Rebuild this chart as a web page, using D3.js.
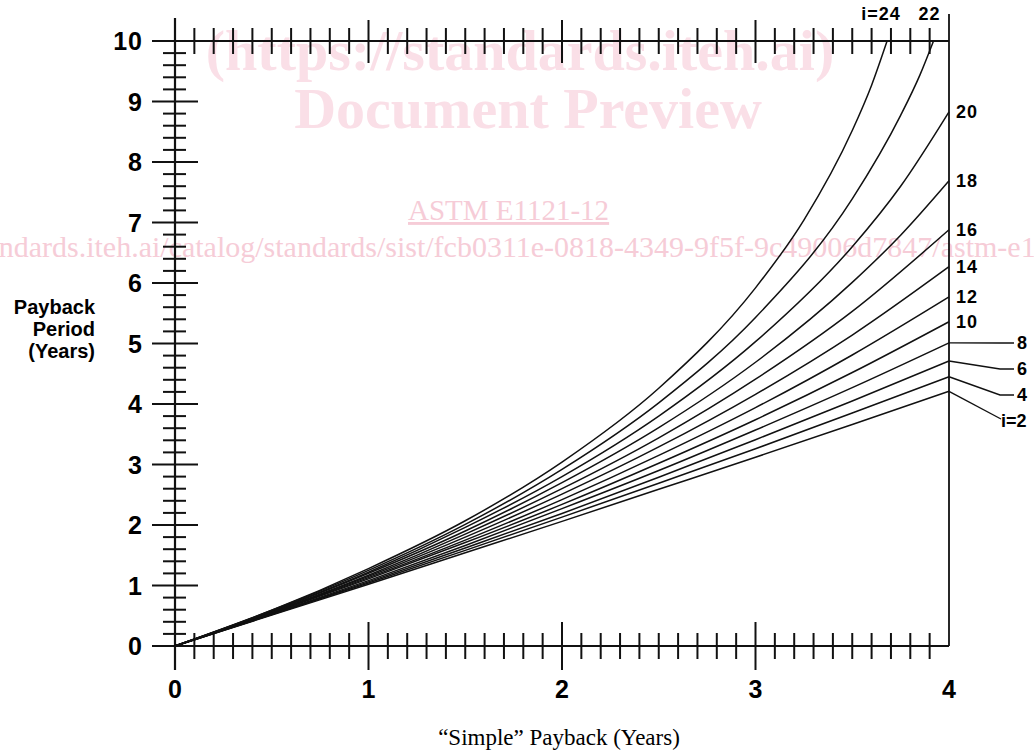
<!DOCTYPE html>
<html>
<head>
<meta charset="utf-8">
<script src="https://cdn.jsdelivr.net/npm/d3@7"></script>
<style>
  body { margin: 0; background: #fff; }
  text { font-family: "Liberation Sans", Arial, sans-serif; }
  .serif { font-family: "Liberation Serif", "Times New Roman", serif; }
</style>
</head>
<body>
<div id="chart"></div>
<script>
// simple payback (x) vs discounted payback period (y), one curve per interest rate
var yTicks = [0, 1, 2, 3, 4, 5, 6, 7, 8, 9, 10]
var xTicks = [0, 1, 2, 3, 4]
var rates = [2, 4, 6, 8, 10, 12, 14, 16, 18, 20, 22, 24]

var i2 = [[0, 0], [0.5, 0.51], [1, 1.02], [1.5, 1.54], [2, 2.06], [2.5, 2.59], [3, 3.12], [3.5, 3.66], [4, 4.21]]
var i4 = [[0, 0], [0.5, 0.52], [1, 1.04], [1.5, 1.58], [2, 2.13], [2.5, 2.69], [3, 3.26], [3.5, 3.85], [4, 4.45]]
var i6 = [[0, 0], [0.5, 0.52], [1, 1.06], [1.5, 1.62], [2, 2.19], [2.5, 2.79], [3, 3.41], [3.5, 4.05], [4, 4.71]]
var i8 = [[0, 0], [0.5, 0.53], [1, 1.08], [1.5, 1.66], [2, 2.27], [2.5, 2.90], [3, 3.57], [3.5, 4.27], [4, 5.01]]
var i10 = [[0, 0], [0.5, 0.54], [1, 1.11], [1.5, 1.71], [2, 2.34], [2.5, 3.02], [3, 3.74], [3.5, 4.52], [4, 5.36]]
var i12 = [[0, 0], [0.5, 0.55], [1, 1.13], [1.5, 1.75], [2, 2.42], [2.5, 3.15], [3, 3.94], [3.5, 4.81], [4, 5.77]]
var i14 = [[0, 0], [0.5, 0.55], [1, 1.15], [1.5, 1.80], [2, 2.51], [2.5, 3.29], [3, 4.16], [3.5, 5.14], [4, 6.27]]
var i16 = [[0, 0], [0.5, 0.56], [1, 1.17], [1.5, 1.85], [2, 2.60], [2.5, 3.44], [3, 4.41], [3.5, 5.53], [4, 6.88]]
var i18 = [[0, 0], [0.5, 0.57], [1, 1.20], [1.5, 1.90], [2, 2.70], [2.5, 3.61], [3, 4.69], [3.5, 6.01], [3.75, 6.79], [4, 7.69]]
var i20 = [[0, 0], [0.5, 0.58], [1, 1.22], [1.5, 1.96], [2, 2.80], [2.5, 3.80], [3, 5.03], [3.5, 6.60], [3.75, 7.60], [4, 8.83]]
var i22 = [[0, 0], [0.5, 0.59], [1, 1.25], [1.5, 2.01], [2, 2.92], [2.5, 4.02], [3, 5.43], [3.5, 7.39], [3.75, 8.77], [3.85, 9.44], [3.92, 10]]
var i24 = [[0, 0], [0.5, 0.59], [1, 1.28], [1.5, 2.07], [2, 3.04], [2.5, 4.26], [3, 5.92], [3.25, 7.04], [3.5, 8.52], [3.6, 9.27], [3.68, 10]]
var curves = [i2, i4, i6, i8, i10, i12, i14, i16, i18, i20, i22, i24]

document.addEventListener('DOMContentLoaded', function() {
  var svg = d3.select('#chart').append('svg')
    .attr('width', 1034)
    .attr('height', 753)

  var x = d3.scaleLinear().domain([0, 4]).range([175, 949])
  var y = d3.scaleLinear().domain([0, 10]).range([646, 41])

  // watermark
  var pink = '#fadfe7'
  var pink2 = '#f6ccd7'
  svg.append('text').attr('class', 'serif')
    .attr('x', 520).attr('y', 70)
    .attr('text-anchor', 'middle')
    .style('font-size', '58px').style('font-weight', 'bold')
    .style('fill', pink)
    .text('(https://standards.iteh.ai)')
  svg.append('text').attr('class', 'serif')
    .attr('x', 528).attr('y', 128)
    .attr('text-anchor', 'middle')
    .style('font-size', '58px').style('font-weight', 'bold')
    .style('fill', pink)
    .text('Document Preview')
  svg.append('text').attr('class', 'serif')
    .attr('x', 408).attr('y', 220)
    .style('font-size', '29px')
    .style('fill', pink2)
    .style('text-decoration', 'underline')
    .text('ASTM E1121-12')
  svg.append('text').attr('class', 'serif')
    .attr('x', -118).attr('y', 257)
    .style('font-size', '30px')
    .style('fill', pink2)
    .text('https://standards.iteh.ai/catalog/standards/sist/fcb0311e-0818-4349-9f5f-9c49006d7847/astm-e1121-12')

  var ink = '#111'

  // axis frame lines
  svg.append('line').attr('x1', 152).attr('x2', x(4)).attr('y1', y(0)).attr('y2', y(0))
    .attr('stroke', ink).attr('stroke-width', 2.2)
  svg.append('line').attr('x1', 152).attr('x2', x(4)).attr('y1', y(10)).attr('y2', y(10))
    .attr('stroke', ink).attr('stroke-width', 2.2)
  svg.append('line').attr('x1', x(0)).attr('x2', x(0)).attr('y1', 18).attr('y2', 670)
    .attr('stroke', ink).attr('stroke-width', 2.2)
  svg.append('line').attr('x1', x(4)).attr('x2', x(4)).attr('y1', 14).attr('y2', y(0))
    .attr('stroke', ink).attr('stroke-width', 1.8)

  // x ticks on bottom and top, every 0.1
  var xt = d3.range(1, 40).map(function(d) { return d / 10 })
  xt.forEach(function(v) {
    var major = Math.abs(v - Math.round(v)) < 1e-6
    var len = major ? 24 : 13
    svg.append('line')
      .attr('x1', x(v)).attr('x2', x(v))
      .attr('y1', y(0) - len).attr('y2', y(0) + len)
      .attr('stroke', ink).attr('stroke-width', 2)
    svg.append('line')
      .attr('x1', x(v)).attr('x2', x(v))
      .attr('y1', y(10) - (major ? 21 : 13)).attr('y2', y(10) + (major ? 22 : 13))
      .attr('stroke', ink).attr('stroke-width', 2)
  })

  // y ticks on left, every 0.2
  var yt = d3.range(1, 50).map(function(d) { return d / 5 })
  yt.forEach(function(v) {
    var major = Math.abs(v - Math.round(v)) < 1e-6
    svg.append('line')
      .attr('x1', x(0) - (major ? 23 : 12)).attr('x2', x(0) + (major ? 23 : 11))
      .attr('y1', y(v)).attr('y2', y(v))
      .attr('stroke', ink).attr('stroke-width', 2)
  })

  // tick labels
  svg.selectAll('.ylab').data(yTicks).enter().append('text')
    .attr('class', 'ylab')
    .attr('x', 143).attr('y', function(d) { return y(d) + 9 })
    .attr('text-anchor', 'end')
    .style('font-size', '25px').style('font-weight', 'bold')
    .style('letter-spacing', '1px')
    .text(function(d) { return d })
  svg.selectAll('.xlab').data(xTicks).enter().append('text')
    .attr('class', 'xlab')
    .attr('x', function(d) { return x(d) }).attr('y', 698)
    .attr('text-anchor', 'middle')
    .style('font-size', '25px').style('font-weight', 'bold')
    .text(function(d) { return d })

  // axis titles
  var ttl = svg.append('text')
    .attr('text-anchor', 'end')
    .style('font-size', '20px').style('font-weight', 'bold')
  ;['Payback', 'Period', '(Years)'].forEach(function(s, k) {
    ttl.append('tspan').attr('x', 95).attr('y', 314 + k * 22).text(s)
  })
  svg.append('text').attr('class', 'serif')
    .attr('x', 559).attr('y', 745)
    .attr('text-anchor', 'middle')
    .style('font-size', '23px')
    .text('\u201CSimple\u201D Payback (Years)')

  // curves
  var line = d3.line()
    .x(function(d) { return x(d[0]) })
    .y(function(d) { return y(d[1]) })
    .curve(d3.curveMonotoneX)
  svg.selectAll('.curve').data(curves).enter().append('path')
    .attr('class', 'curve')
    .attr('d', line)
    .attr('fill', 'none')
    .attr('stroke', ink)
    .attr('stroke-width', 1.5)

  // labels for the curves
  curves.forEach(function(c, k) {
    var r = rates[k]
    var last = c[c.length - 1]
    if (r >= 22) {
      svg.append('text')
        .attr('x', x(last[0]) - (r === 24 ? 6 : 4)).attr('y', 20)
        .attr('text-anchor', 'middle')
        .style('font-size', '18px').style('font-weight', 'bold')
        .style('letter-spacing', '1px')
        .text(r === 24 ? 'i=24' : '22')
    } else if (r >= 10) {
      svg.append('text')
        .attr('x', x(4) + 7).attr('y', y(last[1]) + 6)
        .style('font-size', '18px').style('font-weight', 'bold')
        .style('letter-spacing', '1px')
        .text(r)
    } else {
      var ly = 343 + (8 - r) / 2 * 26
      var y0 = y(last[1])
      if (r === 2) {
        svg.append('path')
          .attr('d', 'M' + x(4) + ',' + y0 + 'L1001,' + (ly - 2))
          .attr('fill', 'none').attr('stroke', ink).attr('stroke-width', 1.4)
        svg.append('text')
          .attr('x', 1001).attr('y', ly + 6)
          .style('font-size', '18px').style('font-weight', 'bold')
          .text('i=2')
      } else {
        svg.append('path')
          .attr('d', 'M' + x(4) + ',' + y0 + 'L1000,' + ly + 'L1014,' + ly)
          .attr('fill', 'none').attr('stroke', ink).attr('stroke-width', 1.4)
        svg.append('text')
          .attr('x', 1017).attr('y', ly + 6)
          .style('font-size', '18px').style('font-weight', 'bold')
          .text(r)
      }
    }
  })
})
</script>
</body>
</html>
